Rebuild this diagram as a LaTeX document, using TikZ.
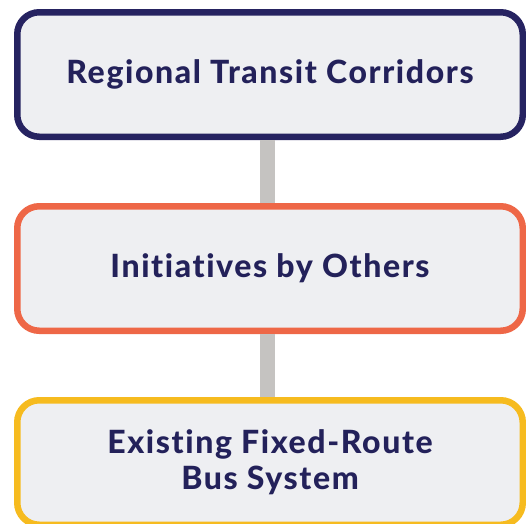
\documentclass[tikz,border=0pt]{standalone}
\usepackage{fontspec}
\setmainfont{Lato}[Ligatures=NoCommon, LetterSpace=5, BoldFont={Lato Heavy}]
\definecolor{navy}{HTML}{23215A}
\definecolor{navyb}{HTML}{262361}
\definecolor{orng}{HTML}{EE6747}
\definecolor{yell}{HTML}{F6BB1F}
\definecolor{boxfill}{HTML}{EEEFF2}
\definecolor{conngray}{HTML}{C5C3C1}
\begin{document}
\begin{tikzpicture}[x=1pt,y=1pt,
  box/.style={draw, line width=6.5pt, fill=boxfill, rounded corners=22pt,
    minimum width=505.5pt, minimum height=124.5pt, inner sep=0pt,
    align=center, text=navy, font=\fontsize{32}{36}\selectfont\bfseries},
  conn/.style={draw=conngray, line width=15pt}]
\useasboundingbox (0,0) rectangle (526,-523);
\node[box, draw=navyb] (b1) at (270,-74.5) {Regional Transit Corridors};
\node[box, draw=orng] (b2) at (270,-268.5) {Initiatives by Others};
\node[box, draw=yell] (b3) at (270,-462.5) {Existing Fixed-Route\\Bus System};
\draw[conn] ([xshift=-2.5pt]b1.south) -- ([xshift=-2.5pt]b2.north);
\draw[conn] ([xshift=-2.5pt]b2.south) -- ([xshift=-2.5pt]b3.north);
\end{tikzpicture}
\end{document}
